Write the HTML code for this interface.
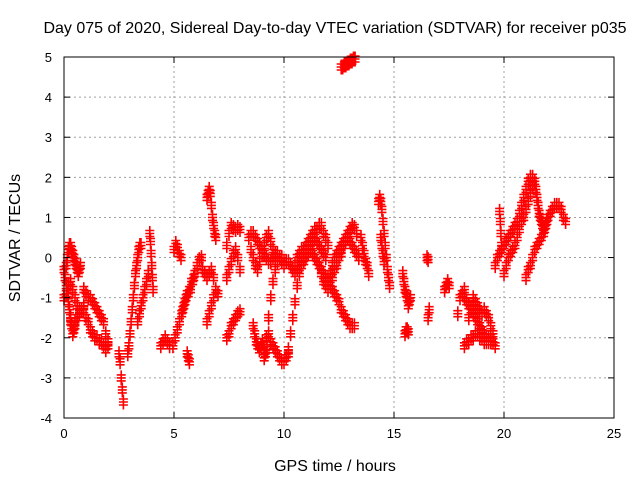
<!DOCTYPE html>
<html><head><meta charset="utf-8"><style>
body{margin:0;background:#fff;}
svg{display:block;font-family:"Liberation Sans",sans-serif;}
</style></head><body>
<svg id="chart" width="640" height="480" viewBox="0 0 640 480">
<rect width="640" height="480" fill="#fff"/>
<text x="335" y="33" font-size="16" text-anchor="middle">Day 075 of 2020, Sidereal Day-to-day VTEC variation (SDTVAR) for receiver p035</text>
<text transform="translate(20,238) rotate(-90)" font-size="16" text-anchor="middle">SDTVAR / TECUs</text>
<text x="335" y="471" font-size="16" text-anchor="middle">GPS time / hours</text>
<g id="grid"></g><g id="marks"></g>
<rect x="64" y="57" width="550" height="361" fill="none" stroke="#000" stroke-width="1"/>
<g id="ticks"></g>
</svg>
<script>
const xTicks=[0,5,10,15,20,25];
const yTicks=[-4,-3,-2,-1,0,1,2,3,4,5];
// tracks: [startHour, stepHours, values]
const tracks=[
[0.0,0.05,[-0.3,-0.5,-0.7,-0.9,-1.1,-1.3,-1.5,-1.7,-1.9,-1.8,-1.6]],
[0.1,0.05,[-0.2,0,0.2,0.3,0.3,0.2,0.1,0,-0.1,-0.2,-0.3,-0.4,-0.3,-0.2]],
[0.0,0.1,[-1.0,-0.9,-0.7,-0.6,-0.8,-1.0,-1.2,-1.4,-1.3,-1.2]],
[0.3,0.1,[-1.6,-1.9,-1.7,-1.5,-1.3,-1.3]],
[0.9,0.1,[-0.8,-0.9,-1.0,-1.0,-1.1,-1.2,-1.3,-1.4,-1.5,-1.6,-1.9,-2.1]],
[0.9,0.1,[-1.3,-1.5,-1.6,-1.8,-1.9,-2.0,-2.0,-2.1,-2.1,-2.2,-2.3,-2.2]],
[2.5,0.05,[-2.4,-2.6,-3.0,-3.3,-3.6]],
[2.9,0.05,[-2.4,-2.2,-1.9,-1.6,-1.3,-1.0,-0.7,-0.4,-0.2,0,0.2,0.3,0.3]],
[3.35,0.08,[-1.6,-1.4,-1.2,-1.0,-0.8,-0.6,-0.4]],
[3.9,0.03,[0.6,0.4,0.1,-0.2,-0.5,-0.8]],
[4.4,0.1,[-2.2,-2.1,-2.0,-2.1,-2.2]],
[4.95,0.1,[-2.2,-2.0,-1.8,-1.6,-1.4,-1.2,-1.0,-0.9,-0.8,-0.6,-0.4,-0.2,-0.05,0]],
[5.0,0.08,[0.2,0.35,0.25,0.1,0.0]],
[5.4,0.1,[-1.3,-1.1,-0.9,-0.8,-0.6,-0.5]],
[5.6,0.05,[-2.4,-2.5,-2.6]],
[6.5,0.05,[1.5,1.6,1.7,1.6,1.3,1.0,0.8,0.6,0.5]],
[6.3,0.1,[-0.3,-0.4,-0.5,-0.4,-0.3,-0.5,-0.8]],
[6.5,0.1,[-1.6,-1.4,-1.2,-1.0,-0.8,-0.9]],
[7.4,0.1,[0.3,0.6,0.8,0.75,0.7,0.75,0.7]],
[7.4,0.1,[-0.5,-0.3,-0.1,0.1,0.2,0.0,-0.3]],
[7.4,0.1,[-2.0,-1.9,-1.7,-1.6,-1.5,-1.4,-1.35]],
[8.4,0.1,[0.5,0.6,0.6,0.5,0.4,0.3,0.2,0.1,0.0,-0.1,-0.1,0.0,0.1,0.1,0.0,-0.1]],
[8.5,0.1,[0.2,0.0,-0.2,-0.3,-0.1,0.1,0.3,0.5,0.6,0.4,0.2]],
[8.6,0.07,[-1.7,-1.9,-2.1,-2.2,-2.3,-2.2,-2.1,-2.3,-2.4,-2.3]],
[9.3,0.1,[-1.9,-2.1,-2.2,-2.3,-2.4,-2.5,-2.6,-2.6,-2.5,-2.4]],
[9.1,0.1,[-2.5,-2.0,-1.5,-1.0,-0.6,-0.3,-0.1,0.0,0.0,-0.1]],
[10.2,0.1,[-2.3,-1.9,-1.5,-1.1,-0.7,-0.4,-0.2,-0.1,0.0,0.1,0.2]],
[10.0,0.1,[-0.2,-0.1,-0.1,-0.2,-0.3,-0.2,0.0,0.1,0.2,0.2,0.3,0.4,0.5,0.6,0.7,0.7,0.8,0.8,0.6,0.5,0.3]],
[10.5,0.1,[-0.4,-0.3,-0.2,-0.1,0.0,0.1,0.2,0.3,0.4,0.5,0.4,0.3,0.2,0.1,0.0]],
[11.3,0.1,[0.1,0.0,-0.1,-0.2,-0.3,-0.4,-0.5,-0.6,-0.7,-0.8,-0.9,-1.0,-1.1,-1.3,-1.4,-1.5,-1.6,-1.7,-1.7,-1.7]],
[11.7,0.1,[-0.4,-0.6,-0.7,-0.8,-0.7,-0.5,-0.3,-0.2,0.0,0.1]],
[12.0,0.1,[-0.5,-0.4,-0.2,0.0,0.1,0.2,0.3,0.4,0.5,0.6,0.7,0.8,0.75,0.6]],
[12.4,0.1,[0.0,0.1,0.2,0.3,0.4,0.5,0.4,0.3,0.2,0.1,0.0]],
[12.6,0.07,[4.75,4.75,4.8,4.8,4.85,4.85,4.9,4.9,4.95,4.95]],
[13.5,0.07,[0.5,0.3,0.1,-0.1,-0.2,-0.4]],
[14.3,0.05,[1.4,1.5,1.4,1.2,0.9,0.6,0.3,0.0,-0.3,-0.5,-0.7]],
[14.4,0.05,[0.5,0.3,0.1,-0.1]],
[15.4,0.05,[-0.4,-0.6,-0.8,-0.9,-1.0,-1.2,-1.1,-1.0]],
[15.5,0.05,[-1.9,-1.8,-1.8,-1.85]],
[16.5,0.05,[0.0,-0.05]],
[16.55,0.05,[-1.5,-1.3]],
[17.3,0.07,[-0.8,-0.7,-0.6,-0.7]],
[17.9,0.1,[-1.4,-1.0,-0.9,-0.8,-1.1,-1.5]],
[18.2,0.1,[-1.0,-1.1,-1.2,-1.3,-1.4,-1.5,-1.6,-1.7,-1.8,-1.9,-2.0,-2.1,-2.0,-2.1,-2.2]],
[18.2,0.1,[-2.2,-2.1,-2.1,-2.0,-2.0,-1.9,-1.9,-2.0,-2.0,-2.1,-2.1,-2.0,-2.1]],
[18.6,0.1,[-1.0,-1.1,-1.2,-1.3,-1.4,-1.3,-1.4,-1.5,-1.7,-1.9]],
[19.6,0.1,[-0.2,0.0,0.1,0.2,0.3,0.4,0.5,0.6,0.7,0.8,0.9,1.1,1.3,1.5,1.7,1.9,2.0,2.0,1.9]],
[20.0,0.1,[-0.4,-0.2,0.0,0.1,0.2,0.3,0.5,0.7,0.9,1.0,1.2,1.4,1.6,1.8,1.9]],
[19.8,0.03,[1.15,0.9,0.6,0.3]],
[21.4,0.05,[1.9,1.7,1.5,1.3,1.1,1.0,0.9,0.8,0.7,0.7,0.8,0.9]],
[21.0,0.1,[-0.5,-0.3,-0.2,0.0,0.2,0.3,0.4,0.5,0.6,0.8,1.0,1.1,1.2,1.3,1.3,1.3,1.2,1.0,0.9]]
];
const NS='http://www.w3.org/2000/svg';
const X0=64,X1=614,Y0=418,Y1=57;
function xs(t){return X0+(t-0)/(25-0)*(X1-X0);}
function ys(v){return Y0-(v+4)/(5+4)*(Y0-Y1);}
function mk(tag,attrs,parent){const e=document.createElementNS(NS,tag);for(const k in attrs)e.setAttribute(k,attrs[k]);parent.appendChild(e);return e;}
const grid=document.getElementById('grid'),ticks=document.getElementById('ticks'),marks=document.getElementById('marks');
xTicks.forEach(t=>{
 const x=xs(t);
 if(t>0&&t<25){const g=mk('line',{x1:x,x2:x,y1:Y0,y2:Y1,stroke:'#a0a0a0','stroke-dasharray':'2,3'},grid);
 
 }
 mk('line',{x1:x,x2:x,y1:Y0,y2:Y0-6,stroke:'#000'},ticks);
 mk('line',{x1:x,x2:x,y1:Y1,y2:Y1+6,stroke:'#000'},ticks);
 const l=mk('text',{x:x,y:Y0+20,'font-size':'13','text-anchor':'middle'},ticks);l.textContent=t;
 
 
});
yTicks.forEach(v=>{
 const y=ys(v);
 if(v>-4&&v<5){const g=mk('line',{x1:X0,x2:X1,y1:y,y2:y,stroke:'#a0a0a0','stroke-dasharray':'2,3'},grid);
 
 }
 mk('line',{x1:X0,x2:X0+6,y1:y,y2:y,stroke:'#000'},ticks);
 mk('line',{x1:X1,x2:X1-6,y1:y,y2:y,stroke:'#000'},ticks);
 const l=mk('text',{x:X0-12,y:y+5,'font-size':'13','text-anchor':'end'},ticks);l.textContent=v;
 
 
});
let d='';
const S=4.5;
tracks.forEach(tr=>{
 const t0=tr[0],dt=tr[1],vals=tr[2];
 vals.forEach((v,i)=>{
  const x=xs(t0+i*dt),y=ys(v);
  [-3,0,3].forEach(o=>{
   const yy=y+o;
   d+='M'+(x-S).toFixed(1)+' '+yy.toFixed(1)+'h'+(2*S)+'M'+x.toFixed(1)+' '+(yy-S).toFixed(1)+'v'+(2*S);
  });
 });
});
const p=mk('path',{d:d,stroke:'#ff0000','stroke-width':'1.6',fill:'none'},marks);


</script>
</body></html>
